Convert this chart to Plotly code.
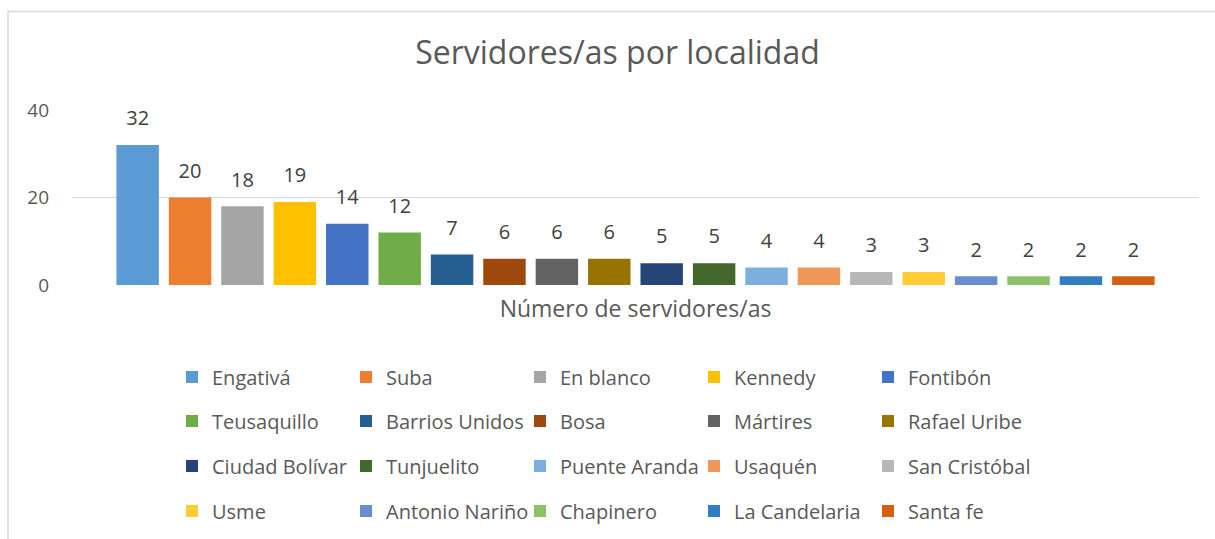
import plotly.graph_objects as go

category = ["Número de servidores/as"]
localidades = ["Engativá", "Suba", "En blanco", "Kennedy", "Fontibón",
               "Teusaquillo", "Barrios Unidos", "Bosa", "Mártires", "Rafael Uribe",
               "Ciudad Bolívar", "Tunjuelito", "Puente Aranda", "Usaquén", "San Cristóbal",
               "Usme", "Antonio Nariño", "Chapinero", "La Candelaria", "Santa fe"]
valores = [32, 20, 18, 19, 14, 12, 7, 6, 6, 6, 5, 5, 4, 4, 3, 3, 2, 2, 2, 2]
colores = ["#5B9BD5", "#ED7D31", "#A5A5A5", "#FFC000", "#4472C4",
           "#70AD47", "#255E91", "#9E480E", "#636363", "#997300",
           "#264478", "#43682B", "#7CAFDD", "#F1975A", "#B7B7B7",
           "#FFCD33", "#698ED0", "#8CC168", "#327DC2", "#D26012"]
y_ticks = [0, 20, 40]

FONT = "Open Sans"
TXT = "#595959"
W, H = 1215, 539
ML, MR, MT, MB = 72, 16, 110, 254
pw = W - ML - MR
ph = H - MT - MB

def py2paper(py):
    return (H - MB - py) / ph

def px2paper(px):
    return (px - ML) / pw

legend_names = ["legend", "legend2", "legend3", "legend4"]
fig = go.Figure()
for i, (name, val, col) in enumerate(zip(localidades, valores, colores)):
    fig.add_trace(go.Bar(
        x=category, y=[val], name=name,
        marker=dict(color=col, line=dict(width=0)),
        legend=legend_names[i // 5],
        hoverinfo="name+y",
    ))
# data labels, grouped the same way as the bars
for i, val in enumerate(valores):
    fig.add_trace(go.Scatter(
        x=category, y=[val], mode="markers+text",
        text=[str(val)], textposition="top center",
        textfont=dict(family=FONT, size=20, color="#404040"),
        marker=dict(size=22, opacity=0),
        showlegend=False, hoverinfo="skip", cliponaxis=False,
    ))

row_y = [377, 421, 466, 511]
leg_common = dict(
    orientation="h", x=px2paper(172), xanchor="left", yanchor="middle",
    font=dict(family=FONT, size=20, color=TXT),
    entrywidth=129, entrywidthmode="pixels",
    bgcolor="rgba(0,0,0,0)", borderwidth=0, itemclick=False,
)
layout_legends = {}
for ln, ry in zip(legend_names, row_y):
    layout_legends[ln] = dict(leg_common, y=py2paper(ry))

fig.update_layout(
    width=W, height=H,
    margin=dict(l=ML, r=MR, t=MT, b=MB, autoexpand=False),
    paper_bgcolor="white", plot_bgcolor="white",
    barmode="group", bargap=0.07, bargroupgap=0.19,
    scattermode="group", scattergap=0.07,
    title=dict(text="Servidores/as por localidad", x=617.5 / W, xref="container",
               xanchor="center", y=1 - 53 / H, yref="container", yanchor="middle",
               font=dict(family=FONT, size=32, color=TXT)),
    xaxis=dict(showgrid=False, showline=False, ticks="", zeroline=False,
               tickfont=dict(family=FONT, size=23, color=TXT), ticklabelstandoff=8),
    yaxis=dict(range=[0, 40], tickvals=y_ticks, showgrid=True, gridcolor="#D9D9D9",
               gridwidth=1.3, zeroline=False, showline=False, ticks="",
               tickfont=dict(family=FONT, size=19, color=TXT), ticklabelstandoff=22),
    showlegend=True,
    **layout_legends,
)

fig.add_shape(type="rect", xref="paper", yref="paper",
              x0=px2paper(8), x1=px2paper(1300), y0=py2paper(700), y1=py2paper(11.5),
              line=dict(color="#D9D9D9", width=1.5), fillcolor="rgba(0,0,0,0)", layer="below")

fig.write_html("out.html", config={"displayModeBar": False},
               post_script="document.body.style.margin='0';document.body.style.overflow='hidden';")
